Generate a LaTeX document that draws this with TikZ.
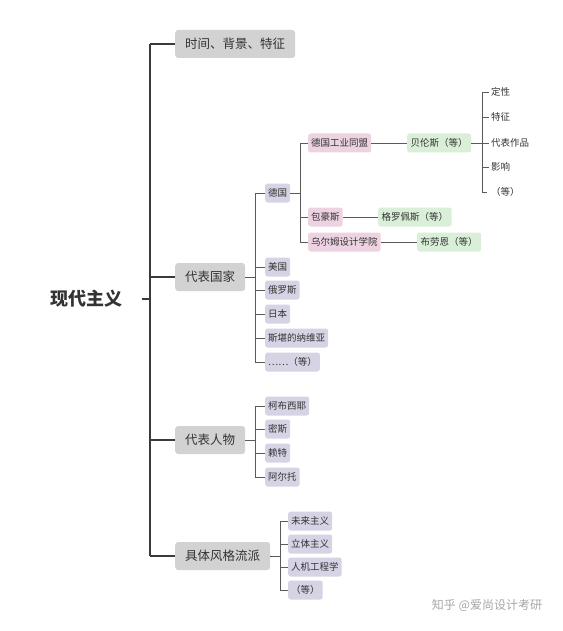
\documentclass[tikz,border=0pt]{standalone}
\usepackage{fontspec}
\setmainfont{Noto Sans CJK SC}
\newfontfamily\cjk{Noto Sans CJK SC}
\definecolor{lvone}{HTML}{D2D2D2}
\definecolor{purp}{HTML}{D5D3E4}
\definecolor{pink}{HTML}{EDD3E1}
\definecolor{grn}{HTML}{DAEFD8}
\definecolor{txt}{HTML}{333333}
\definecolor{lnmain}{HTML}{3A3A3A}
\definecolor{lnsub}{HTML}{5A5A5A}
\tikzset{
  lone/.style={fill=lvone, rounded corners=3pt, minimum height=28pt, inner xsep=10pt, anchor=west, text=txt, font=\cjk\fontsize{12.5}{14}\selectfont},
  sbox/.style={rounded corners=2.5pt, minimum height=19pt, inner xsep=3pt, inner ysep=0pt, anchor=west, text=txt, font=\cjk\fontsize{9.5}{11}\selectfont},
  pbox/.style={sbox, fill=purp},
  kbox/.style={sbox, fill=pink},
  gbox/.style={sbox, fill=grn, inner xsep=3.5pt},
  leaf/.style={anchor=west, inner sep=0pt, text=txt, font=\cjk\fontsize{9.5}{11}\selectfont},
  mline/.style={draw=lnmain, line width=1.1pt},
  sline/.style={draw=lnsub, line width=0.8pt},
}
\begin{document}
\begin{tikzpicture}[x=1pt,y=-1pt]
\useasboundingbox (0,0) rectangle (562,631);
% root
\node[font=\cjk\bfseries\fontsize{18}{20}\selectfont, text=txt, inner sep=0pt] (root) at (86,299) {现代主义};
\coordinate (rs) at (142,299);
% level 1
\node[lone] (n1) at (175,44) {时间、背景、特征};
\node[lone] (n2) at (175,277) {代表国家};
\node[lone] (n3) at (175,440) {代表人物};
\node[lone] (n4) at (175,556) {具体风格流派};
\coordinate (v1t) at (150,44);
\coordinate (v1b) at (150,556);
\draw[mline] (rs) -- (v1t |- rs);
\draw[mline] (v1t) -- (v1b);
\foreach \n in {n1,n2,n3,n4} \draw[mline] (v1t |- \n.west) -- (\n.west);
% countries
\node[pbox] (de) at (265,193) {德国};
\node[pbox] (us) at (265,267) {美国};
\node[pbox] (ru) at (265,290) {俄罗斯};
\node[pbox] (jp) at (265,314) {日本};
\node[pbox] (sc) at (265,338) {斯堪的纳维亚};
\node[pbox] (etc1) at (265,362) {……（等）};
\coordinate (v2) at (255,193);
\draw[sline] (n2.east) -- (v2 |- n2.east);
\draw[sline] (v2) -- (v2 |- etc1.west);
\foreach \n in {de,us,ru,jp,sc,etc1} \draw[sline] (v2 |- \n.west) -- (\n.west);
% Germany
\node[kbox] (wb) at (308,143) {德国工业同盟};
\node[kbox] (bh) at (308,217) {包豪斯};
\node[kbox] (ulm) at (308,242) {乌尔姆设计学院};
\coordinate (v3) at (300,143);
\draw[sline] (de.east) -- (v3 |- de.east);
\draw[sline] (v3) -- (v3 |- ulm.west);
\foreach \n in {wb,bh,ulm} \draw[sline] (v3 |- \n.west) -- (\n.west);
\node[gbox] (beh) at (407,143) {贝伦斯（等）};
\node[gbox] (gro) at (378,217) {格罗佩斯（等）};
\node[gbox] (bra) at (417,242) {布劳恩（等）};
\draw[sline] (wb.east) -- (beh.west);
\draw[sline] (bh.east) -- (gro.west);
\draw[sline] (ulm.east) -- (bra.west);
% leaves
\node[leaf] (l1) at (491,92) {定性};
\node[leaf] (l2) at (491,117) {特征};
\node[leaf] (l3) at (491,143) {代表作品};
\node[leaf] (l4) at (491,167) {影响};
\node[leaf] (l5) at (491,192) {（等）};
\coordinate (v4) at (482,92);
\draw[sline] (beh.east) -- (v4 |- beh.east);
\draw[sline] (v4) -- (v4 |- l5.west);
\foreach \n in {l1,l2,l3,l4} \draw[sline] (v4 |- \n.west) -- ([xshift=-2pt]\n.west);
\draw[sline] (v4 |- l5.west) -- ([xshift=-4pt]l5.west);
% people
\node[pbox] (p1) at (265,406) {柯布西耶};
\node[pbox] (p2) at (265,429) {密斯};
\node[pbox] (p3) at (265,453) {赖特};
\node[pbox] (p4) at (265,477) {阿尔托};
\coordinate (v5) at (255,406);
\draw[sline] (n3.east) -- (v5 |- n3.east);
\draw[sline] (v5) -- (v5 |- p4.west);
\foreach \n in {p1,p2,p3,p4} \draw[sline] (v5 |- \n.west) -- (\n.west);
% styles
\node[pbox] (s1) at (288,521) {未来主义};
\node[pbox] (s2) at (288,544) {立体主义};
\node[pbox] (s3) at (288,567) {人机工程学};
\node[pbox] (s4) at (288,590) {（等）};
\coordinate (v6) at (280,521);
\draw[sline] (n4.east) -- (v6 |- n4.east);
\draw[sline] (v6) -- (v6 |- s4.west);
\foreach \n in {s1,s2,s3,s4} \draw[sline] (v6 |- \n.west) -- (\n.west);
% watermark
\node[text=black!35, font=\cjk\fontsize{12}{14}\selectfont, inner sep=0pt] (wm) at (487,605) {知乎 @爱尚设计考研}; 
\end{tikzpicture}
\end{document}
